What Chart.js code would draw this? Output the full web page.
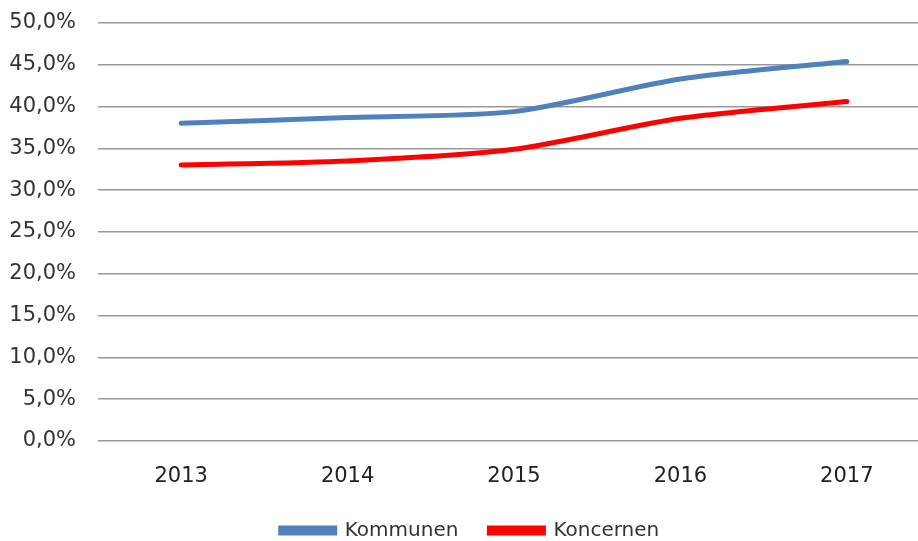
<!DOCTYPE html>
<html><head><meta charset="utf-8">
<script src="https://cdn.jsdelivr.net/npm/chart.js@4"></script>
<style>html,body{margin:0;padding:0;background:#fff;overflow:hidden;width:918px;height:541px}#wrap{width:940px;height:552px}</style>
</head><body><div id="wrap"><canvas id="c" width="940" height="552"></canvas></div>
<script>
const categories = ["2013","2014","2015","2016","2017"];
const kommunen = [38.0, 38.7, 39.4, 43.3, 45.4];
const koncernen = [33.0, 33.5, 34.9, 38.6, 40.6];
const yTicks = [0,5,10,15,20,25,30,35,40,45,50];

const FONT = '"DejaVu Sans", "Open Sans", sans-serif';
new Chart(document.getElementById('c'), {
  type: 'line',
  data: {
    labels: categories,
    datasets: [
      {label:'Kommunen', data:kommunen, borderColor:'#4F81BD', backgroundColor:'#4F81BD', borderWidth:5, pointRadius:0, tension:0.25, borderCapStyle:'round'},
      {label:'Koncernen', data:koncernen, borderColor:'#FF0000', backgroundColor:'#FF0000', borderWidth:5, pointRadius:0, tension:0.25, borderCapStyle:'round'}
    ]
  },
  options: {
    responsive:false, animation:false,
    layout:{padding:{left:10,right:10,top:23,bottom:1.5}},
    plugins:{
      tooltip:{enabled:false},
      legend:{position:'bottom',
        labels:{boxWidth:54,boxHeight:5,padding:31,color:'#333',font:{family:FONT,size:20,lineHeight:1.05}}}
    },
    scales:{
      x:{offset:true, grid:{display:false, drawTicks:false}, border:{display:false},
         afterFit:(a)=>{a.height = 48.5;},
         ticks:{padding:23,color:'#222',font:{family:FONT,size:21}}},
      y:{min:0,max:50,
         afterBuildTicks:(a)=>{a.ticks = yTicks.map(v=>({value:v}));},
         afterFit:(a)=>{a.width = 88; a.paddingTop = 0; a.paddingBottom = 0;},
         grid:{color:'#999',lineWidth:1.5,drawTicks:false}, border:{display:false},
         ticks:{padding:22,color:'#333',font:{family:FONT,size:21},
           callback:(v)=>v.toFixed(1).replace('.',',')+'%'}}
    }
  }
});
</script></body></html>
